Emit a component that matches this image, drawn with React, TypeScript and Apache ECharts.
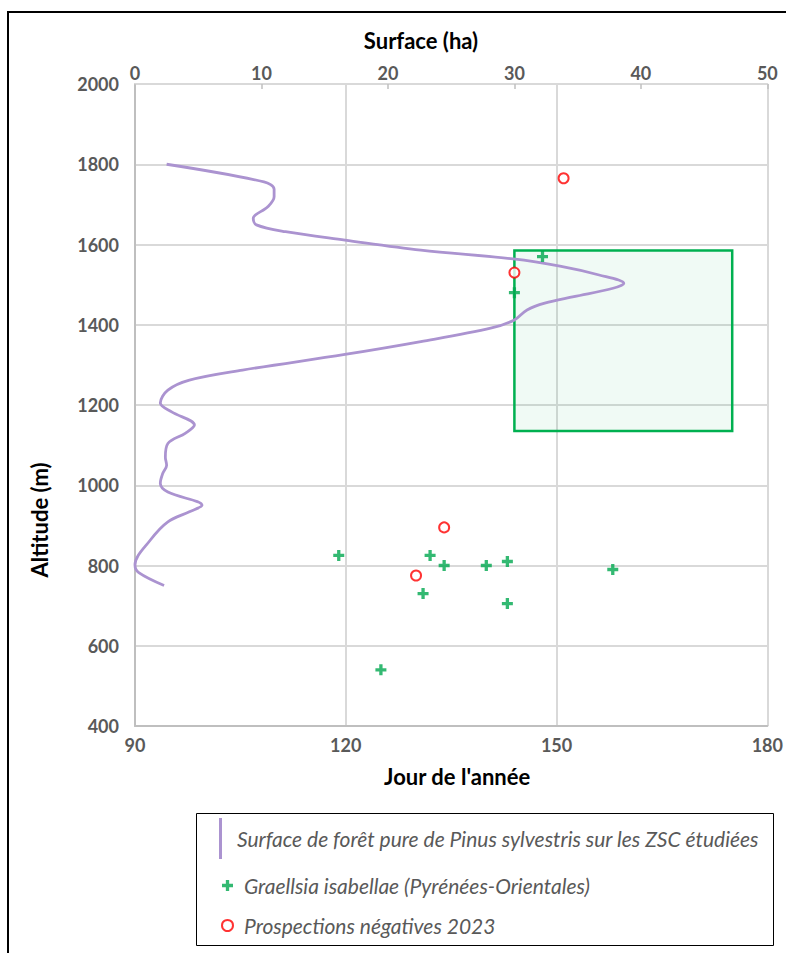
import React, { useEffect, useRef } from "react";
import * as echarts from "echarts";

// Day-of-year axis (bottom) and surface axis (top)
const dayTicks = [90, 120, 150, 180];
const surfaceTicks = [0, 10, 20, 30, 40, 50];
const altitudeTicks = [400, 600, 800, 1000, 1200, 1400, 1600, 1800, 2000];

// Forest surface (ha) by altitude (m)
const forestCurve: [number, number][] = [
  [2.5, 1800], [10.2, 1756], [11.0, 1738], [11.0, 1719], [10.5, 1694], [9.35, 1665],
  [9.6, 1649], [11.9, 1632], [16.6, 1611], [22.6, 1586], [29.9, 1564], [33.6, 1546],
  [36.7, 1524], [38.65, 1503], [37.8, 1491], [34.7, 1470], [32.4, 1454], [31.0, 1437],
  [30.0, 1412], [28.2, 1392], [22.6, 1358], [16.6, 1326], [8.5, 1287], [4.3, 1262],
  [2.6, 1237], [2.0, 1205], [2.9, 1183], [4.7, 1150], [4.0, 1130], [2.6, 1104],
  [2.4, 1070], [2.5, 1050], [2.2, 1030], [2.0, 1005], [2.6, 983], [5.3, 950],
  [4.3, 934], [2.6, 909], [1.2, 863], [0, 801], [0.3, 782], [2.3, 750],
];

// Graellsia isabellae observations: [day, altitude]
const graellsiaDays = [148, 144, 119, 132, 134, 140, 143, 158, 131, 143, 125];
const graellsiaAlt = [1570, 1480, 825, 825, 800, 800, 810, 790, 730, 705, 540];

// Negative prospections 2023: [day, altitude]
const negativeDays = [151, 144, 134, 130];
const negativeAlt = [1765, 1530, 895, 775];

// Highlighted window: [dayStart, altTop], [dayEnd, altBottom]
const windowStart: [number, number] = [144, 1585];
const windowEnd: [number, number] = [175, 1135];

const NAME_LINE = "Surface de forêt pure de Pinus sylvestris sur les ZSC étudiées";
const NAME_G = "Graellsia isabellae (Pyrénées-Orientales)";
const NAME_N = "Prospections négatives 2023";

const PLUS = "path://M3.5,0h3v3.5h3.5v3h-3.5v3.5h-3v-3.5h-3.5v-3h3.5z";
const FONT = "Lato, 'Open Sans', sans-serif";

export default function App() {
  const ref = useRef<HTMLDivElement>(null);
  useEffect(() => {
    if (!ref.current) return;
    const chart = echarts.init(ref.current, null, { renderer: "svg" });
    const labelStyle = { color: "#595959", fontSize: 18, fontWeight: "bold" as const, fontFamily: FONT };
    const legendText = { color: "#595959", fontSize: 21, fontStyle: "italic", fontFamily: FONT };
    chart.setOption({
      animation: false,
      textStyle: { fontFamily: FONT },
      grid: { left: 135, top: 84, width: 634, height: 642, containLabel: false },
      xAxis: [
        {
          type: "value",
          position: "bottom",
          min: dayTicks[0],
          max: dayTicks[dayTicks.length - 1],
          interval: 30,
          name: "Jour de l'année",
          nameLocation: "middle",
          nameGap: 39,
          nameTextStyle: { color: "#000", fontSize: 22, fontWeight: "bold", fontFamily: FONT, padding: [0, 0, 0, 12] },
          axisLine: { show: true, lineStyle: { color: "#bfbfbf", width: 2 } },
          axisTick: { show: false },
          axisLabel: { ...labelStyle, margin: 10 },
          splitLine: { show: true, lineStyle: { color: "#d9d9d9", width: 2 } },
        },
        {
          type: "value",
          position: "top",
          min: surfaceTicks[0],
          max: surfaceTicks[surfaceTicks.length - 1],
          interval: 10,
          axisLine: { show: true, lineStyle: { color: "#d9d9d9", width: 2 } },
          axisTick: { show: true, inside: true, length: 5, lineStyle: { color: "#bfbfbf", width: 1.5 } },
          axisLabel: { ...labelStyle, margin: 2 },
          splitLine: { show: false },
        },
      ],
      yAxis: {
        type: "value",
        min: altitudeTicks[0],
        max: altitudeTicks[altitudeTicks.length - 1],
        interval: 200,
        axisLine: { show: true, lineStyle: { color: "#bfbfbf", width: 2 } },
        axisTick: { show: false },
        axisLabel: { ...labelStyle, margin: 16, formatter: (v: number) => String(v) },
        splitLine: { show: true, lineStyle: { color: "#d9d9d9", width: 2 } },
      },
      legend: [
        {
          data: [{ name: NAME_LINE, icon: "rect" }],
          left: 214,
          top: 813,
          itemWidth: 3,
          itemHeight: 41,
          selectedMode: false,
          textStyle: { ...legendText, padding: [0, 0, 0, 10] },
        },
        {
          data: [NAME_G, NAME_N],
          orient: "vertical",
          left: 216,
          top: 870,
          itemWidth: 11,
          itemHeight: 11,
          itemGap: 19,
          selectedMode: false,
          textStyle: { ...legendText, padding: [0, 0, 0, 6] },
        },
      ],
      graphic: [
        {
          type: "rect",
          shape: { x: 8, y: 12, width: 900, height: 1000 },
          style: { fill: "none", stroke: "#000", lineWidth: 2 },
          silent: true,
        },
        {
          type: "rect",
          shape: { x: 196.5, y: 813.5, width: 577, height: 132 },
          style: { fill: "none", stroke: "#000", lineWidth: 1 },
          silent: true,
        },
        {
          type: "text",
          x: 421,
          y: 40,
          style: { text: "Surface (ha)", fill: "#000", font: `bold 22px ${FONT}`, align: "center", verticalAlign: "middle" },
        },
        {
          type: "text",
          x: 39,
          y: 520,
          rotation: Math.PI / 2,
          style: { text: "Altitude (m)", fill: "#000", font: `bold 22px ${FONT}`, align: "center", verticalAlign: "middle" },
        },
      ],
      series: [
        {
          name: NAME_LINE,
          type: "line",
          xAxisIndex: 1,
          yAxisIndex: 0,
          data: forestCurve,
          smooth: 0.35,
          showSymbol: false,
          lineStyle: { color: "#ab93d0", width: 2.8 },
          itemStyle: { color: "#ab93d0" },
          z: 3,
        },
        {
          name: NAME_G,
          type: "scatter",
          xAxisIndex: 0,
          yAxisIndex: 0,
          data: graellsiaDays.map((d, i) => [d, graellsiaAlt[i]]),
          symbol: PLUS,
          symbolSize: 11,
          itemStyle: { color: "#00a84f" },
          z: 4,
          markArea: {
            silent: true,
            itemStyle: { color: "rgba(0,176,80,0.06)", borderColor: "#00b050", borderWidth: 2.5 },
            data: [[{ coord: windowStart }, { coord: windowEnd }]],
          },
        },
        {
          name: NAME_N,
          type: "scatter",
          xAxisIndex: 0,
          yAxisIndex: 0,
          data: negativeDays.map((d, i) => [d, negativeAlt[i]]),
          symbol: "emptyCircle",
          symbolSize: 10,
          itemStyle: { color: "#ff0000", borderWidth: 2.5 },
          z: 4,
        },
      ],
    });
    return () => chart.dispose();
  }, []);
  return <div ref={ref} style={{ position: "absolute", left: 0, top: 0, width: 786, height: 953, background: "#fff" }} />;
}
